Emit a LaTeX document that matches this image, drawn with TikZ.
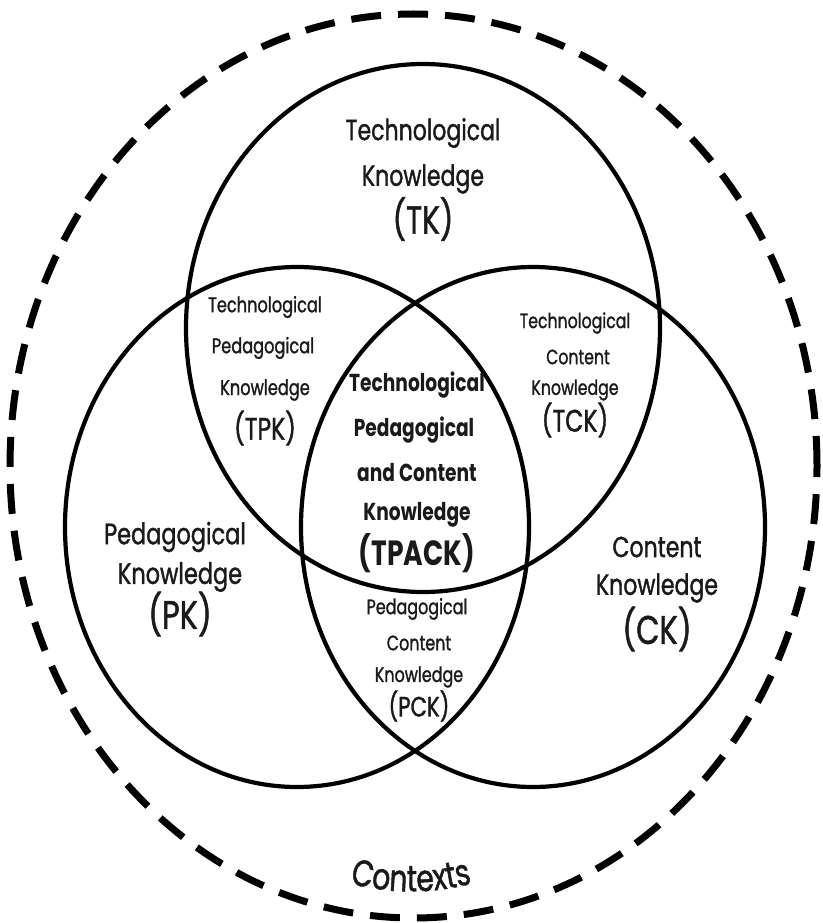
\documentclass[tikz,border=0pt]{standalone}
\usepackage{fontspec}
\setmainfont{Poppins}[FakeStretch=0.76, UprightFeatures={FakeBold=1.2}]
\usetikzlibrary{decorations.text}
\definecolor{ink}{HTML}{1A1A1A}
\newcommand\fsz[1]{\fontsize{#1}{#1}\selectfont}
\begin{document}
\begin{tikzpicture}[x=1pt,y=-1pt,
  venn/.style={line width=4.2pt, draw=black},
  ctx/.style={line width=7pt, draw=black, dash pattern=on 30pt off 17pt},
  lbl/.style={inner sep=0pt, align=center, text=ink}]
\useasboundingbox (0,0) rectangle (822,923);
\fill[white] (0,0) rectangle (822,923);
% outer contexts ring
\draw[ctx] (413.5,466) ellipse [x radius=403.5pt, y radius=452pt];
% three knowledge circles
\draw[venn] (423,328) ellipse [x radius=237pt, y radius=264pt];
\draw[venn] (297,527) ellipse [x radius=232pt, y radius=260pt];
\draw[venn] (533,527) ellipse [x radius=232pt, y radius=260pt];
% TK
\node[lbl,font=\fsz{29}] (tk1) at (423,133) {Technological};
\node[lbl,font=\fsz{29}] (tk2) at (423,179) {Knowledge};
\node[lbl,font=\fsz{39}] (tk3) at (423,219) {(TK)};
% TPK
\node[lbl,font=\fsz{21.3}] (tpk1) at (265,307) {Technological};
\node[lbl,font=\fsz{21.3}] (tpk2) at (263,348) {Pedagogical};
\node[lbl,font=\fsz{21.3}] (tpk3) at (265,390) {Knowledge};
\node[lbl,font=\fsz{31}] (tpk4) at (265,428) {(TPK)};
% TCK
\node[lbl,font=\fsz{20.7}] (tck1) at (575,323) {Technological};
\node[lbl,font=\fsz{20.7}] (tck2) at (578,357) {Content};
\node[lbl,font=\fsz{20.7}] (tck3) at (575,390) {Knowledge};
\node[lbl,font=\fsz{31}] (tck4) at (575,420) {(TCK)};
% TPACK
\node[lbl,font=\fsz{24.5}\bfseries] (tp1) at (417,385) {Technological};
\node[lbl,font=\fsz{24.5}\bfseries] (tp2) at (414,430) {Pedagogical};
\node[lbl,font=\fsz{24.5}\bfseries] (tp3) at (417,473) {and Content};
\node[lbl,font=\fsz{24.5}\bfseries] (tp4) at (417,515) {Knowledge};
\node[lbl,font=\fsz{35}\bfseries] (tp5) at (417,553) {(TPACK)};
% PCK
\node[lbl,font=\fsz{21}] (pck1) at (417,609) {Pedagogical};
\node[lbl,font=\fsz{21}] (pck2) at (419,643) {Content};
\node[lbl,font=\fsz{21}] (pck3) at (419,677) {Knowledge};
\node[lbl,font=\fsz{28}] (pck4) at (419,706) {(PCK)};
% PK
\node[lbl,font=\fsz{29.5}] (pk1) at (175,537) {Pedagogical};
\node[lbl,font=\fsz{29.5}] (pk2) at (180,577) {Knowledge};
\node[lbl,font=\fsz{40}] (pk3) at (180,614) {(PK)};
% CK
\node[lbl,font=\fsz{29}] (ck1) at (657,547) {Content};
\node[lbl,font=\fsz{29}] (ck2) at (657,588) {Knowledge};
\node[lbl,font=\fsz{40}] (ck3) at (657,629) {(CK)};
% Contexts along the bottom arc
\path[decorate, decoration={text along path, text align=center,
  text={|\fsz{37}\color{ink}|Contexts}}]
  (286,857) .. controls (366,903) and (456,903) .. (536,857);
\end{tikzpicture}
\end{document}
